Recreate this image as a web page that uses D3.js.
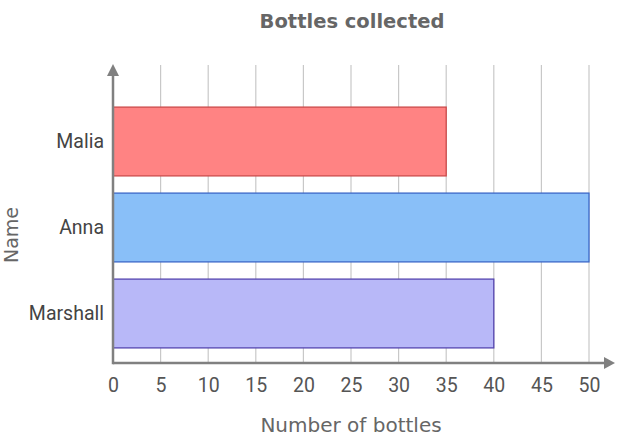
<!DOCTYPE html>
<html><head><meta charset="utf-8">
<script src="https://cdn.jsdelivr.net/npm/d3@7"></script>
<style>body{margin:0;background:#fff}svg{display:block}</style>
</head><body>
<script>
const names = ["Malia", "Anna", "Marshall"];
const bottles = [35, 50, 40];
const fills = ["#ff8383", "#89bff8", "#b8b8f8"];
const strokes = ["#cc4b4b", "#3b67c8", "#5545b0"];
const xTicks = [0, 5, 10, 15, 20, 25, 30, 35, 40, 45, 50];

const W = 619, H = 439;
const svg = d3.select("body").append("svg").attr("width", W).attr("height", H);
const x = d3.scaleLinear().domain([0, 50]).range([113, 589]);
const y = d3.scaleBand().domain(names).range([98.5, 356.5]).paddingInner(0.2).paddingOuter(0.1);
const plotTop = 65, plotBottom = 363;

svg.append("g").selectAll("line").data(xTicks.slice(1)).join("line")
  .attr("x1", d => x(d)).attr("x2", d => x(d)).attr("y1", plotTop).attr("y2", plotBottom)
  .attr("stroke", "#c8c8c8").attr("stroke-width", 1.2);

svg.append("g").selectAll("rect").data(names).join("rect")
  .attr("x", x(0)).attr("y", d => y(d))
  .attr("width", (d, i) => x(bottles[i]) - x(0)).attr("height", y.bandwidth())
  .attr("fill", (d, i) => fills[i]).attr("stroke", (d, i) => strokes[i]).attr("stroke-width", 1.3);

const xAxis = svg.append("g").attr("transform", `translate(0,${plotBottom})`)
  .call(d3.axisBottom(x).tickValues(xTicks).tickSize(0).tickPadding(15));
xAxis.select(".domain").remove();
xAxis.selectAll("text").attr("font-family", "Roboto").attr("font-size", 19.5).attr("fill", "#555");

const yAxis = svg.append("g").attr("transform", `translate(${x(0)},0)`)
  .call(d3.axisLeft(y).tickSize(0).tickPadding(9));
yAxis.select(".domain").remove();
yAxis.selectAll("text").attr("font-family", "Roboto").attr("font-size", 19.5).attr("fill", "#444");

// axis lines with arrows
const ac = "#808080";
svg.append("line").attr("x1", x(0)).attr("x2", 604).attr("y1", plotBottom).attr("y2", plotBottom).attr("stroke", ac).attr("stroke-width", 2.5);
svg.append("path").attr("d", `M604,${plotBottom-6}L615,${plotBottom}L604,${plotBottom+6}Z`).attr("fill", ac);
svg.append("line").attr("x1", x(0)).attr("x2", x(0)).attr("y1", plotBottom + 1.2).attr("y2", 76).attr("stroke", ac).attr("stroke-width", 2.5);
svg.append("path").attr("d", `M${x(0)-6},76L${x(0)},64L${x(0)+6},76Z`).attr("fill", ac);

svg.append("text").attr("x", 352).attr("y", 28).attr("text-anchor", "middle")
  .attr("font-family", "DejaVu Sans").attr("font-weight", "bold").attr("font-size", 19.5).attr("fill", "#666")
  .text("Bottles collected");
svg.append("text").attr("x", 351).attr("y", 432).attr("text-anchor", "middle")
  .attr("font-family", "DejaVu Sans").attr("font-size", 20).attr("fill", "#666")
  .text("Number of bottles");
svg.append("text").attr("transform", "translate(18,235) rotate(-90)").attr("text-anchor", "middle")
  .attr("font-family", "DejaVu Sans").attr("font-size", 19).attr("fill", "#666")
  .text("Name");
</script>
</body></html>
